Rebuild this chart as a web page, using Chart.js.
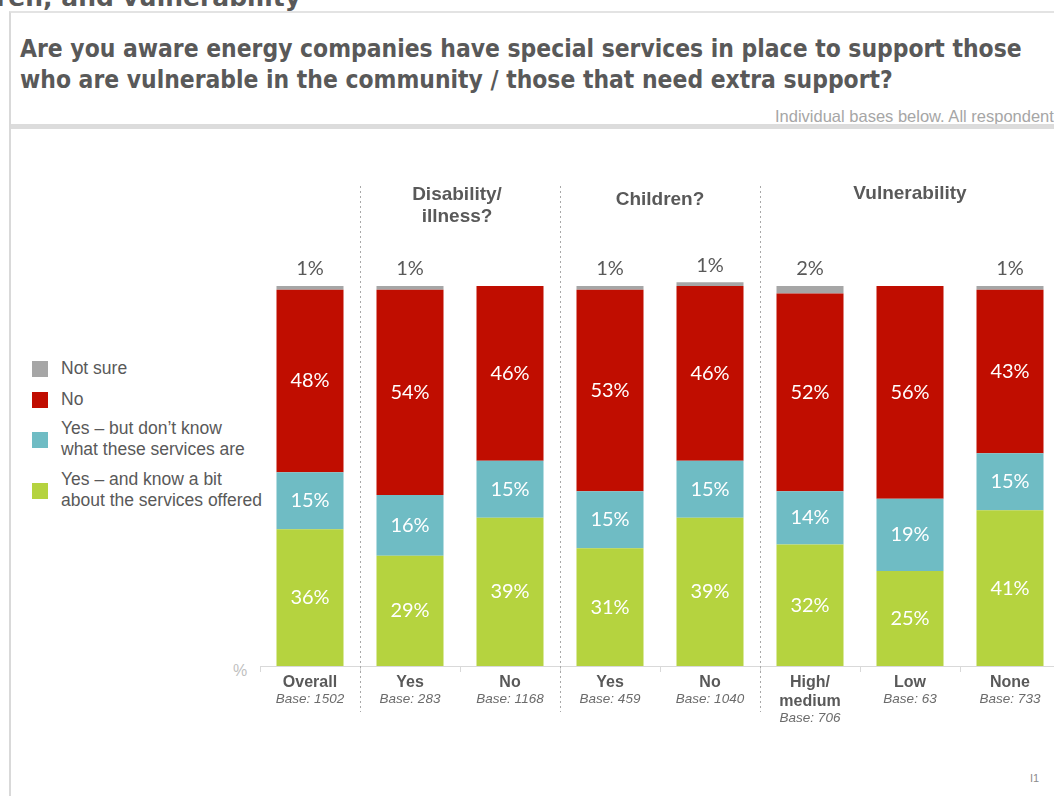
<!DOCTYPE html>
<html>
<head>
<meta charset="utf-8">
<script src="https://cdn.jsdelivr.net/npm/chart.js@4.4.1/dist/chart.umd.min.js"></script>
<style>
  html, body { margin: 0; padding: 0; background: #fff; overflow: hidden; width: 1054px; height: 796px; }
  body { position: relative; font-family: "Liberation Sans", Arial, sans-serif; }
  .section { position: absolute; left: -4px; top: -17px; font: bold 25px "DejaVu Sans", sans-serif; color: #595959; white-space: nowrap; }
  .frame { position: absolute; left: 9px; top: 11px; width: 1100px; height: 900px; border-left: 2px solid #d9d9d9; border-top: 2px solid #e3e3e3; }
  .title { position: absolute; left: 20px; top: 33px; font: bold 24.4px "DejaVu Sans Condensed", "DejaVu Sans", sans-serif; font-stretch: condensed; color: #595959; line-height: 31px; white-space: nowrap; }
  .base-note { position: absolute; left: 775px; top: 107px; font: 16.5px "Liberation Sans Narrow", "Liberation Sans", Arial, sans-serif; color: #a6a6a6; white-space: nowrap; }
  .rule { position: absolute; left: 11px; top: 124px; width: 1100px; height: 5px; background: #dcdcdc; }
  .legend { position: absolute; left: 32px; top: 358px; font: 17.5px "Liberation Sans", Arial, sans-serif; color: #595959; }
  .legend .item { position: absolute; left: 0; white-space: nowrap; }
  .legend .sw { position: absolute; left: 0; width: 16px; height: 16px; }
  .legend .tx { position: absolute; left: 29px; line-height: 21px; }
  .pct { position: absolute; left: 233px; top: 662px; font: 16px "Liberation Sans", Arial, sans-serif; color: #bfbfbf; }
  .pageno { position: absolute; left: 1030px; top: 772px; font: 11px "Liberation Sans", Arial, sans-serif; color: #8c8c8c; }
  #wrap { position: absolute; left: 0; top: 0; width: 1100px; height: 796px; }
</style>
</head>
<body>
<div class="section">ren, and vulnerability</div>
<div class="frame"></div>
<div class="title">Are you aware energy companies have special services in place to support those<br>who are vulnerable in the community / those that need extra support?</div>
<div class="base-note">Individual bases below. All respondents</div>
<div class="rule"></div>
<div class="legend" id="legend"></div>
<div class="pct">%</div>
<div class="pageno">I1</div>
<div id="wrap"><canvas id="chart" width="1100" height="796"></canvas></div>
<script>
// Categories and their bases
const categories = ["Overall", "Yes", "No", "Yes", "No", "High/\nmedium", "Low", "None"];
const bases = ["Base: 1502", "Base: 283", "Base: 1168", "Base: 459", "Base: 1040", "Base: 706", "Base: 63", "Base: 733"];

// Answer shares (%) per category
const yesKnow    = [36, 29, 39, 31, 39, 32, 25, 41];
const yesDontKnow = [15, 16, 15, 15, 15, 14, 19, 15];
const no         = [48, 54, 46, 53, 46, 52, 56, 43];
const notSure    = [1, 1, 0, 1, 1, 2, 0, 1];

// Group headers: label lines and the category range they span
const groups = [
  { lines: ["Disability/", "illness?"], from: 1, to: 2 },
  { lines: ["Children?"], from: 3, to: 4 },
  { lines: ["Vulnerability"], from: 5, to: 7 }
];
const groupDividers = [0.5, 2.5, 4.5];

const seriesNames = ["Yes – and know a bit\nabout the services offered", "Yes – but don’t know\nwhat these services are", "No", "Not sure"];
const colors = { yesKnow: "#b5d33f", yesDontKnow: "#6fbcc4", no: "#c00d00", notSure: "#a6a6a6" };

// Legend (top to bottom: Not sure, No, Yes-don't-know, Yes-know)
const legendItems = [
  { text: "Not sure", color: colors.notSure, top: 0 },
  { text: "No", color: colors.no, top: 31 },
  { text: seriesNames[1], color: colors.yesDontKnow, top: 60 },
  { text: seriesNames[0], color: colors.yesKnow, top: 111 }
];
const legendEl = document.getElementById("legend");
legendItems.forEach(it => {
  const lines = it.text.split("\n");
  const div = document.createElement("div");
  div.className = "item";
  div.style.top = it.top + "px";
  const swTop = lines.length > 1 ? 14 : 3;
  div.innerHTML = '<div class="sw" style="top:' + swTop + 'px;background:' + it.color + '"></div>' +
    '<div class="tx">' + lines.join("<br>") + '</div>';
  legendEl.appendChild(div);
});

const FONT = "Lato, 'Open Sans', sans-serif";

const decorPlugin = {
  id: "decor",
  beforeDatasetsDraw(chart) {
    const ctx = chart.ctx;
    const x = chart.scales.x;
    const area = chart.chartArea;
    const base = area.bottom;
    ctx.save();
    // baseline with category tick marks
    ctx.strokeStyle = "#d9d9d9";
    ctx.lineWidth = 1;
    ctx.beginPath();
    ctx.moveTo(260, base + 0.5);
    ctx.lineTo(1060, base + 0.5);
    for (let i = 0; i <= categories.length; i++) {
      const bx = Math.round(x.getPixelForValue(i - 0.5)) + 0.5;
      ctx.moveTo(bx, base);
      ctx.lineTo(bx, base + 6);
    }
    ctx.stroke();
    // dotted group dividers
    ctx.strokeStyle = "#a8a8a8";
    ctx.setLineDash([2, 3]);
    groupDividers.forEach(v => {
      const dx = Math.round(x.getPixelForValue(v)) + 0.5;
      ctx.beginPath();
      ctx.moveTo(dx, 186);
      ctx.lineTo(dx, 712);
      ctx.stroke();
    });
    ctx.restore();
  },
  afterDatasetsDraw(chart) {
    const ctx = chart.ctx;
    const x = chart.scales.x;
    const base = chart.chartArea.bottom;
    ctx.save();
    ctx.textAlign = "center";
    ctx.textBaseline = "middle";
    // segment labels
    ctx.font = "20px " + FONT;
    chart.data.datasets.forEach((ds, di) => {
      const meta = chart.getDatasetMeta(di);
      meta.data.forEach((bar, i) => {
        const v = ds.data[i];
        if (!v) return;
        if (di === 3) {
          ctx.fillStyle = "#595959";
          ctx.fillText(v + "%", bar.x, bar.y - 17);
        } else {
          ctx.fillStyle = "#ffffff";
          ctx.fillText(v + "%", bar.x, (bar.y + bar.base) / 2);
        }
      });
    });
    // category labels and bases
    categories.forEach((c, i) => {
      const cx = x.getPixelForValue(i);
      const lines = c.split("\n");
      ctx.fillStyle = "#595959";
      ctx.font = "bold 16px 'Liberation Sans', Arial, sans-serif";
      lines.forEach((ln, k) => ctx.fillText(ln, cx, base + 17 + k * 19));
      ctx.font = "italic 13.5px 'Liberation Sans', Arial, sans-serif";
      ctx.fillStyle = "#6b6b6b";
      ctx.fillText(bases[i], cx, base + 33 + (lines.length - 1) * 19);
    });
    // group headers
    ctx.fillStyle = "#595959";
    ctx.font = "bold 19px 'Liberation Sans', Arial, sans-serif";
    groups.forEach(g => {
      const gx = (x.getPixelForValue(g.from) + x.getPixelForValue(g.to)) / 2;
      const top = g.lines.length > 1 ? 195 : (g.to - g.from > 1 ? 194 : 200);
      g.lines.forEach((ln, k) => ctx.fillText(ln, gx + (g.lines.length > 1 ? -3 : 0), top + k * 22));
    });
    ctx.restore();
  }
};

const ds = (label, data, color) => ({
  label, data, backgroundColor: color, borderWidth: 0,
  categoryPercentage: 1, barPercentage: 0.67
});

new Chart(document.getElementById("chart"), {
  type: "bar",
  data: {
    labels: categories,
    datasets: [
      ds(seriesNames[0], yesKnow, colors.yesKnow),
      ds(seriesNames[1], yesDontKnow, colors.yesDontKnow),
      ds(seriesNames[2], no, colors.no),
      ds(seriesNames[3], notSure, colors.notSure)
    ]
  },
  options: {
    responsive: false,
    animation: false,
    layout: { padding: { left: 260, right: 40, top: 248, bottom: 130 } },
    plugins: { legend: { display: false }, tooltip: { enabled: false } },
    scales: {
      x: { stacked: true, display: false },
      y: { stacked: true, display: false, min: 0, max: 110 }
    }
  },
  plugins: [decorPlugin]
});
</script>
</body>
</html>
